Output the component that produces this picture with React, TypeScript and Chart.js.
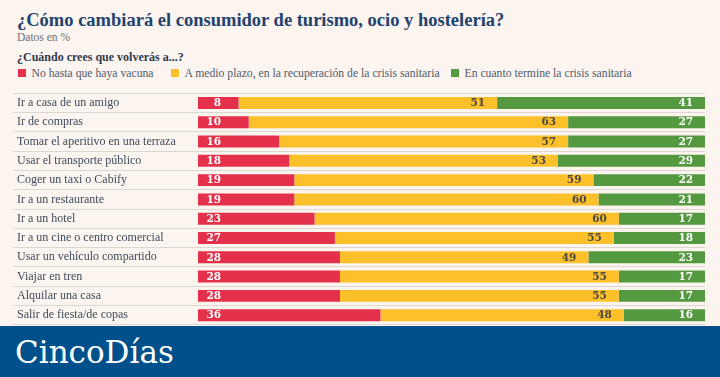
import React, { useEffect, useRef } from "react";
import { Chart, registerables } from "chart.js";

Chart.register(...registerables);

const categories = [
  "Ir a casa de un amigo",
  "Ir de compras",
  "Tomar el aperitivo en una terraza",
  "Usar el transporte público",
  "Coger un taxi o Cabify",
  "Ir a un restaurante",
  "Ir a un hotel",
  "Ir a un cine o centro comercial",
  "Usar un vehículo compartido",
  "Viajar en tren",
  "Alquilar una casa",
  "Salir de fiesta/de copas",
];
const noVacuna = [8, 10, 16, 18, 19, 19, 23, 27, 28, 28, 28, 36];
const medioPlazo = [51, 63, 57, 53, 59, 60, 60, 55, 49, 55, 55, 48];
const enCuanto = [41, 27, 27, 29, 22, 21, 17, 18, 23, 17, 17, 16];
const seriesNames = [
  "No hasta que haya vacuna",
  "A medio plazo, en la recuperación de la crisis sanitaria",
  "En cuanto termine la crisis sanitaria",
];
const seriesColors = ["#e5304b", "#fcc02a", "#54993f"];
const labelColors = ["#ffffff", "#4a4843", "#ffffff"];

const title = "¿Cómo cambiará el consumidor de turismo, ocio y hostelería?";
const subtitle = "Datos en %";
const question = "¿Cuándo crees que volverás a...?";
const brand = "CincoDías";

const BG = "#fcf5ef";
const SERIF = '"Liberation Serif", "Times New Roman", serif';
const NUM_FONT = '"DejaVu Serif", serif';

const valueLabels = {
  id: "valueLabels",
  afterDatasetsDraw(chart: any) {
    const ctx = chart.ctx;
    ctx.save();
    ctx.font = `bold 10.5px ${NUM_FONT}`;
    ctx.textBaseline = "middle";
    ctx.textAlign = "right";
    chart.data.datasets.forEach((ds: any, di: number) => {
      const meta = chart.getDatasetMeta(di);
      meta.data.forEach((bar: any, i: number) => {
        const v = ds.data[i];
        const p = bar.getProps(["x", "y", "base"], true);
        ctx.fillStyle = labelColors[di];
        let tx: number;
        if (di === 0) tx = p.base + 23;
        else if (di === 1) tx = p.x - 12;
        else tx = p.x - 12;
        ctx.fillText(String(v), tx, p.y + 0.5);
      });
    });
    ctx.restore();
  },
};

export default function App() {
  const ref = useRef<HTMLCanvasElement | null>(null);

  useEffect(() => {
    document.body.style.margin = "0";
    document.body.style.background = BG;
    const seriesData = [noVacuna, medioPlazo, enCuanto];
    const chart = new Chart(ref.current as HTMLCanvasElement, {
      type: "bar",
      data: {
        labels: categories,
        datasets: seriesNames.map((name, i) => ({
          label: name,
          data: seriesData[i],
          backgroundColor: seriesColors[i],
          borderWidth: 0,
          barPercentage: 0.62,
          categoryPercentage: 1,
        })),
      },
      options: {
        indexAxis: "y",
        animation: false,
        responsive: false,
        maintainAspectRatio: false,
        layout: { padding: { left: 17, right: 15, top: 13.3, bottom: 0 } },
        plugins: {
          legend: { display: false },
          tooltip: { enabled: false },
          title: { display: false },
        },
        scales: {
          x: {
            stacked: true,
            min: 0,
            max: 100,
            display: false,
          },
          y: {
            stacked: true,
            border: { display: false },
            grid: {
              offset: true,
              color: "#ddd7d1",
              lineWidth: 1,
              drawTicks: true,
              tickLength: 185,
            },
            ticks: {
              crossAlign: "far",
              padding: 0,
              color: "#3d4a5c",
              font: { family: SERIF, size: 12 },
            },
            afterFit: (scale: any) => {
              scale.width = 181;
            },
          },
        },
      } as any,
      plugins: [valueLabels],
    });
    return () => chart.destroy();
  }, []);

  const abs = (top: number, left: number, extra: any) => ({
    position: "absolute" as const,
    top,
    left,
    whiteSpace: "nowrap" as const,
    ...extra,
  });

  const legendLefts = [18, 171, 451];

  return (
    <div
      style={{
        position: "fixed",
        left: 0,
        top: 0,
        width: 720,
        height: 377,
        background: BG,
        overflow: "hidden",
      }}
    >
      <div
        style={abs(10.5, 17, {
          fontFamily: SERIF,
          fontWeight: 700,
          fontSize: 18.5,
          lineHeight: "18.5px",
          color: "#23426e",
        })}
      >
        {title}
      </div>
      <div
        style={abs(32, 17, {
          fontFamily: SERIF,
          fontSize: 11.5,
          lineHeight: "11.5px",
          color: "#6b6f78",
        })}
      >
        {subtitle}
      </div>
      <div
        style={abs(51, 17, {
          fontFamily: SERIF,
          fontWeight: 700,
          fontSize: 12,
          lineHeight: "12px",
          color: "#2f3a4c",
        })}
      >
        {question}
      </div>
      {seriesNames.map((name, i) => (
        <div key={name} style={abs(67.5, legendLefts[i], { display: "flex", alignItems: "center" })}>
          <span
            style={{
              display: "inline-block",
              width: 8,
              height: 8,
              background: seriesColors[i],
              marginRight: 5.5,
            }}
          />
          <span
            style={{
              fontFamily: SERIF,
              fontSize: 11.7,
              lineHeight: "11.7px",
              color: "#4f5a6c",
            }}
          >
            {name}
          </span>
        </div>
      ))}
      <canvas
        ref={ref}
        width={720}
        height={252}
        style={{ position: "absolute", left: 0, top: 80, width: 720, height: 252 }}
      />
      <div
        style={{
          position: "absolute",
          left: 0,
          top: 326,
          width: 720,
          height: 51,
          background: "#00518b",
        }}
      />
      <div
        style={abs(336.5, 15, {
          fontFamily: NUM_FONT,
          fontSize: 31,
          lineHeight: "31px",
          color: "#ffffff",
        })}
      >
        {brand}
      </div>
    </div>
  );
}
